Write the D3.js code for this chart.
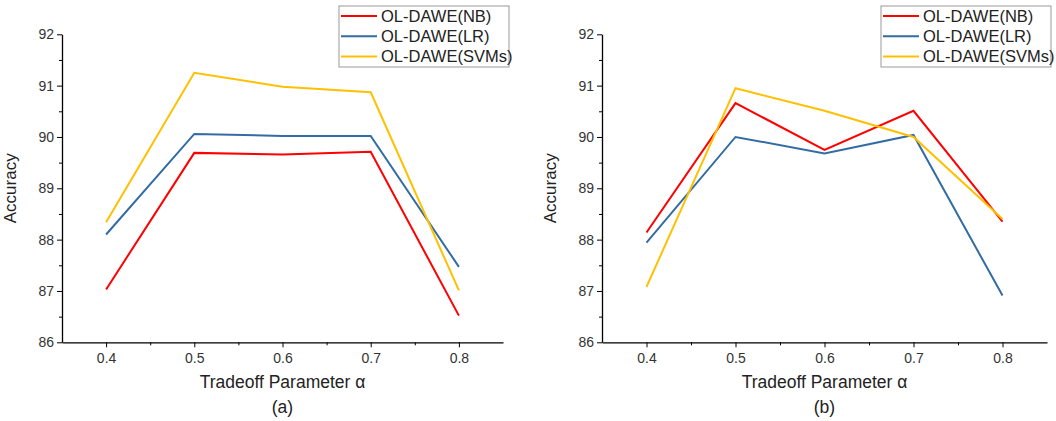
<!DOCTYPE html>
<html>
<head>
<meta charset="utf-8">
<script src="https://cdn.jsdelivr.net/npm/d3@7"></script>
<style>
  body { margin: 0; background: #fff; }
  svg { font-family: "Liberation Sans", Arial, sans-serif; }
</style>
</head>
<body>
<div id="chart"></div>
<script>
const W = 1056, H = 421;

const alphas = [0.4, 0.5, 0.6, 0.7, 0.8];
const seriesNames = ["OL-DAWE(NB)", "OL-DAWE(LR)", "OL-DAWE(SVMs)"];
const colors = ["#ff0000", "#336ca3", "#ffc000"];
const yTicks = [86, 87, 88, 89, 90, 91, 92];

// panel (a)
const nbA = [87.03, 89.69, 89.66, 89.71, 86.52];
const lrA = [88.10, 90.06, 90.02, 90.02, 87.47];
const svmA = [88.34, 91.25, 90.98, 90.87, 87.01];

// panel (b)
const nbB = [88.14, 90.66, 89.75, 90.51, 88.35];
const lrB = [87.94, 90.00, 89.68, 90.04, 86.91];
const svmB = [87.08, 90.95, 90.51, 90.00, 88.40];

const panels = [
  { label: "(a)", left: 62, right: 503, legendX: 339, series: [nbA, lrA, svmA] },
  { label: "(b)", left: 602, right: 1047, legendX: 881, series: [nbB, lrB, svmB] },
];

const plotTop = 34.3, plotBottom = 342.3;
const font = '"Liberation Sans", Arial, sans-serif';

const svg = d3.select("#chart").append("svg")
  .attr("width", W)
  .attr("height", H);

panels.forEach((p) => {
  const g = svg.append("g");

  const x = d3.scaleLinear().domain([0.35, 0.85]).range([p.left, p.right]);
  const y = d3.scaleLinear().domain([86, 92]).range([plotBottom, plotTop]);

  // minor ticks
  g.append("g")
    .attr("transform", `translate(0,${plotBottom})`)
    .call(d3.axisBottom(x).tickValues([0.45, 0.55, 0.65, 0.75]).tickSize(3).tickFormat(""))
    .call((a) => a.select(".domain").remove());
  g.append("g")
    .attr("transform", `translate(${p.left},0)`)
    .call(d3.axisLeft(y).tickValues([86.5, 87.5, 88.5, 89.5, 90.5, 91.5]).tickSize(3).tickFormat(""))
    .call((a) => a.select(".domain").remove());

  const xAxis = g.append("g")
    .attr("transform", `translate(0,${plotBottom})`)
    .call(d3.axisBottom(x).tickValues(alphas).tickSize(5).tickPadding(6).tickSizeOuter(0).tickFormat(d3.format(".1f")));
  const yAxis = g.append("g")
    .attr("transform", `translate(${p.left},0)`)
    .call(d3.axisLeft(y).tickValues(yTicks).tickSize(5).tickPadding(3).tickSizeOuter(0).tickFormat(d3.format("d")));

  [xAxis, yAxis].forEach((a) => {
    a.attr("font-family", font);
    a.selectAll("text").style("font-size", "14px").attr("fill", "#333");
    a.select(".domain").attr("stroke-width", 1.3);
  });

  g.append("text")
    .attr("x", (p.left + p.right) / 2)
    .attr("y", 388)
    .attr("text-anchor", "middle")
    .style("font-size", "17.5px")
    .attr("fill", "#222")
    .text("Tradeoff Parameter α");

  g.append("text")
    .attr("transform", `translate(${p.left - 46},${(plotTop + plotBottom) / 2}) rotate(-90)`)
    .attr("text-anchor", "middle")
    .style("font-size", "17px")
    .attr("fill", "#222")
    .text("Accuracy");

  g.append("text")
    .attr("x", (p.left + p.right) / 2)
    .attr("y", 413)
    .attr("text-anchor", "middle")
    .style("font-size", "17.5px")
    .attr("fill", "#222")
    .text(p.label);

  const line = d3.line()
    .x((d, i) => x(alphas[i]))
    .y((d) => y(d));

  p.series.forEach((s, i) => {
    g.append("path")
      .datum(s)
      .attr("fill", "none")
      .attr("stroke", colors[i])
      .attr("stroke-width", 2)
      .attr("d", line);
  });

  // legend
  const lg = g.append("g").attr("transform", `translate(${p.legendX},6)`);
  lg.append("rect")
    .attr("width", 170)
    .attr("height", 61)
    .attr("fill", "#fff")
    .attr("stroke", "#999")
    .attr("stroke-width", 1);
  seriesNames.forEach((name, i) => {
    const ry = 10 + i * 20.2;
    lg.append("line")
      .attr("x1", 2)
      .attr("x2", 38)
      .attr("y1", ry)
      .attr("y2", ry)
      .attr("stroke", colors[i])
      .attr("stroke-width", 2);
    lg.append("text")
      .attr("x", 42)
      .attr("y", ry + 6)
      .style("font-size", "16.5px")
      .attr("fill", "#222")
      .text(name);
  });
});
</script>
</body>
</html>
